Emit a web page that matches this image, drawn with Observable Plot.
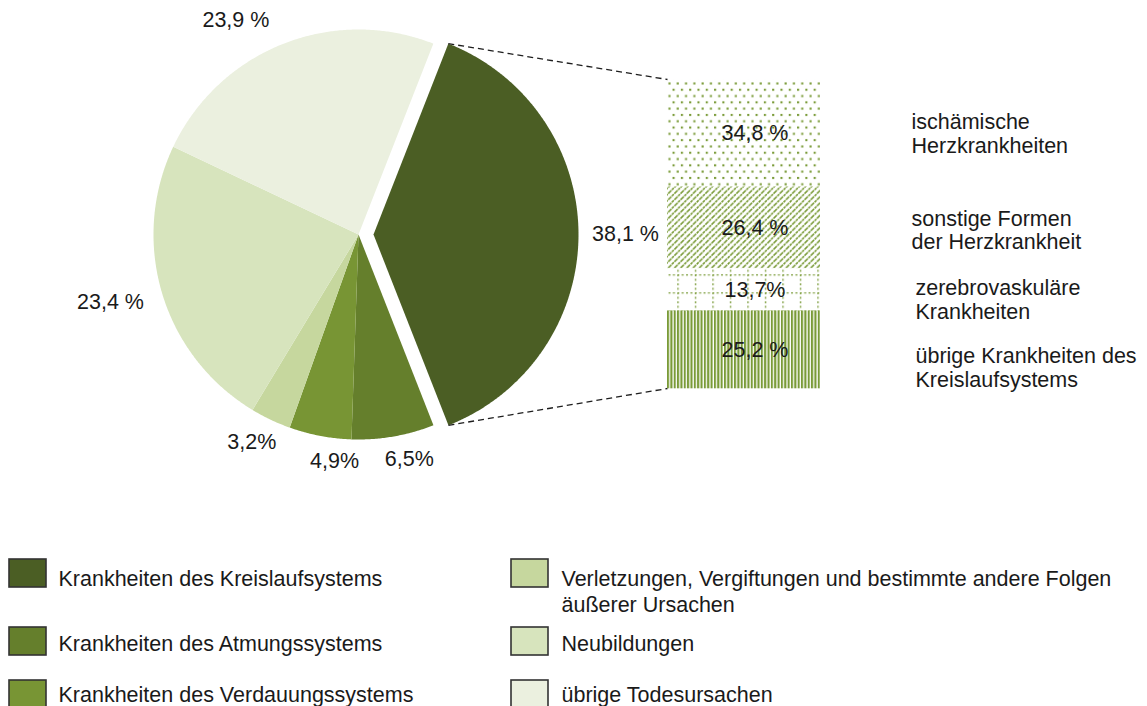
<!DOCTYPE html>
<html><head><meta charset="utf-8">
<script src="https://cdn.jsdelivr.net/npm/d3@7"></script>
<script src="https://cdn.jsdelivr.net/npm/@observablehq/plot@0.6"></script>
<style>
html,body{margin:0;padding:0;background:#fff;}
#chart{position:relative;width:1147px;height:706px;overflow:hidden;}
#chart svg{position:absolute;left:0;top:0;}
</style></head><body><div id="chart"></div>
<script>
// ---------- data ----------
const categories = [
  "Krankheiten des Kreislaufsystems",
  "Krankheiten des Atmungssystems",
  "Krankheiten des Verdauungssystems",
  "Verletzungen, Vergiftungen und bestimmte andere Folgen äußerer Ursachen",
  "Neubildungen",
  "übrige Todesursachen"
];
const shares = [38.1, 6.5, 4.9, 3.2, 23.4, 23.9];
const pieLabels = ["38,1 %", "6,5%", "4,9%", "3,2%", "23,4 %", "23,9 %"];

const subCategories = [
  "ischämische\nHerzkrankheiten",
  "sonstige Formen\nder Herzkrankheit",
  "zerebrovaskuläre\nKrankheiten",
  "übrige Krankheiten des\nKreislaufsystems"
];
const subShares = [34.8, 26.4, 13.7, 25.2];
const subLabels = ["34,8 %", "26,4 %", "13,7%", "25,2 %"];

// ---------- styles / layout ----------
const sliceColors = ["#4b5e24", "#657f2c", "#789534", "#c6d79e", "#d7e4bd", "#ebf0df"];
const patternIds = ["pDots", "pHatch", "pGrid", "pStripes"];
const patColor = "#7a9b38";
const W = 1147, H = 706;
const cx = 358, cy = 234, R = 205, explode = 15, startDeg = 21.4;
const labelRadius = 235;
const pieLabelNudge = [[17, 0], [11, -7], [20, -4.5], [-6, -4.5], [-23, 0], [-36, 4]];
const barX = [667, 820], barY = [79, 388];
const subLabelX = [911, 911, 915, 915];
const subLabelDy = [0, 2, 10, 17];
const font = "'Liberation Sans', Arial, Helvetica, sans-serif";
const textColor = "#1a1a1a";
const FS = 21.5;
const legendRowBase = [582, 647, 698];
const legendSqTop = [559, 627, 680];
const legendSqX = [9, 511];
const legendTxtX = [58, 561];

// ---------- bar (second layer, own scales) ----------
const subData = subCategories.map((c, i) => ({cat: c, share: subShares[i], label: subLabels[i], fill: `url(#${patternIds[i]})`}));
const cum = d3.cumsum(subShares);
const mids = subShares.map((s, i) => cum[i] - s / 2);

const plotB = Plot.plot({
  width: W, height: H, margin: 0,
  style: {background: "transparent", fontFamily: font},
  x: {type: "band", domain: ["Kreislauf"], range: barX, padding: 0, axis: null},
  y: {domain: [0, 100], range: barY, axis: null},
  color: {type: "identity"},
  marks: [
    Plot.barY(subData, Plot.stackY({x: () => "Kreislauf", y: "share", fill: "fill", inset: 0})),
    ...subData.map((d, i) => Plot.text([d], {
      x: () => "Kreislauf", y: () => mids[i], text: "label",
      dx: 11, fontSize: FS, fill: textColor, fontFamily: font
    })),
    ...subData.map((d, i) => Plot.text([d], {
      x: () => "Kreislauf", y: () => mids[i], text: "cat",
      dx: subLabelX[i] - (barX[0] + barX[1]) / 2, dy: subLabelDy[i],
      textAnchor: "start", lineAnchor: "middle", lineHeight: 24 / FS,
      fontSize: FS, fill: textColor, fontFamily: font
    }))
  ]
});

// patterns
const defs = d3.select(plotB).insert("defs", ":first-child");
{
  const p = defs.append("pattern").attr("id", "pDots").attr("patternUnits", "userSpaceOnUse")
    .attr("x", 667).attr("y", 81).attr("width", 8.3).attr("height", 12.6);
  p.append("rect").attr("x", 1.4).attr("y", 1.4).attr("width", 2.1).attr("height", 2.1).attr("fill", patColor);
  p.append("rect").attr("x", 5.55).attr("y", 7.7).attr("width", 2.1).attr("height", 2.1).attr("fill", patColor);
}
{
  const s = 6.2;
  const p = defs.append("pattern").attr("id", "pHatch").attr("patternUnits", "userSpaceOnUse")
    .attr("width", s).attr("height", s);
  p.append("path").attr("d", `M0,${s} L${s},0 M${-s/2},${s/2} L${s/2},${-s/2} M${s/2},${s*1.5} L${s*1.5},${s/2}`)
    .attr("stroke", patColor).attr("stroke-width", 1.6).attr("stroke-dasharray", "2.6 0.8").attr("fill", "none");
}
{
  const p = defs.append("pattern").attr("id", "pGrid").attr("patternUnits", "userSpaceOnUse")
    .attr("x", 677.3).attr("y", 274.3).attr("width", 17.5).attr("height", 18);
  p.append("path").attr("d", "M0.7,0 L0.7,18").attr("stroke", patColor).attr("stroke-width", 1.3).attr("stroke-dasharray", "2 2.5");
  p.append("path").attr("d", "M0,0.7 L17.5,0.7").attr("stroke", patColor).attr("stroke-width", 1.3).attr("stroke-dasharray", "2 2.375");
}
{
  const p = defs.append("pattern").attr("id", "pStripes").attr("patternUnits", "userSpaceOnUse")
    .attr("x", 667).attr("width", 3.35).attr("height", 10);
  p.append("rect").attr("x", 0).attr("y", 0).attr("width", 2.1).attr("height", 10).attr("fill", patColor);
}

const ySB = plotB.scale("y"), xSB = plotB.scale("x");
const barLeft = xSB.apply("Kreislauf");
const barTopPx = ySB.apply(0), barBotPx = ySB.apply(100);

// ---------- pie (first layer) ----------
const toRad = Math.PI / 180;
const pie = d3.pie().sort(null).value(d => d)
  .startAngle(startDeg * toRad).endAngle(startDeg * toRad + 2 * Math.PI);
const arcs = pie(shares);
const slices = arcs.map((a, i) => {
  const mid = (a.startAngle + a.endAngle) / 2;
  const ox = i === 0 ? explode * Math.sin(mid) : 0;
  const oy = i === 0 ? -explode * Math.cos(mid) : 0;
  const pts = [{x: cx + ox, y: cy + oy}];
  const n = Math.max(2, Math.ceil((a.endAngle - a.startAngle) / (0.4 * toRad)));
  for (let k = 0; k <= n; k++) {
    const t = a.startAngle + (a.endAngle - a.startAngle) * k / n;
    pts.push({x: cx + ox + R * Math.sin(t), y: cy + oy - R * Math.cos(t)});
  }
  pts.push({x: cx + ox, y: cy + oy});
  return {pts, mid, ox, oy, a};
});

const labelData = arcs.map((a, i) => {
  const s = slices[i];
  return {
    text: pieLabels[i],
    x: cx + s.ox + labelRadius * Math.sin(s.mid) + pieLabelNudge[i][0],
    y: cy + s.oy - labelRadius * Math.cos(s.mid) + pieLabelNudge[i][1]
  };
});

const s0 = slices[0];
const links = [
  {x1: cx + s0.ox + R * Math.sin(s0.a.startAngle), y1: cy + s0.oy - R * Math.cos(s0.a.startAngle), x2: barLeft, y2: barTopPx},
  {x1: cx + s0.ox + R * Math.sin(s0.a.endAngle), y1: cy + s0.oy - R * Math.cos(s0.a.endAngle), x2: barLeft, y2: barBotPx}
];

const legend = categories.map((c, i) => {
  const col = Math.floor(i / 3), row = i % 3;
  return {
    name: c, color: sliceColors[i],
    x1: legendSqX[col], x2: legendSqX[col] + 37,
    y1: legendSqTop[row], y2: legendSqTop[row] + 28,
    tx: legendTxtX[col], ty: legendRowBase[row] - 0.71 * FS
  };
});

const plotA = Plot.plot({
  width: W, height: H, margin: 0,
  style: {background: "white", fontFamily: font},
  x: {domain: [0, W], range: [0, W], axis: null},
  y: {domain: [0, H], range: [0, H], axis: null},
  marks: [
    ...slices.map((s, i) => Plot.line(s.pts, {x: "x", y: "y", fill: sliceColors[i], stroke: "none"})),
    Plot.link(links, {x1: "x1", y1: "y1", x2: "x2", y2: "y2", stroke: "#1e1e1e", strokeWidth: 1.3, strokeDasharray: "6 4"}),
    Plot.text(labelData, {x: "x", y: "y", text: "text", fontSize: FS, fill: textColor, fontFamily: font}),
    Plot.rect(legend, {x1: "x1", x2: "x2", y1: "y1", y2: "y2", fill: "color", stroke: "#333", strokeWidth: 1.6}),
    Plot.text(legend, {x: "tx", y: "ty", text: "name", textAnchor: "start", lineAnchor: "top",
      lineWidth: 29.5, lineHeight: 26 / FS, fontSize: FS, fill: textColor, fontFamily: font})
  ]
});

const chart = document.getElementById("chart");
chart.appendChild(plotA);
chart.appendChild(plotB);
</script>
</body></html>
